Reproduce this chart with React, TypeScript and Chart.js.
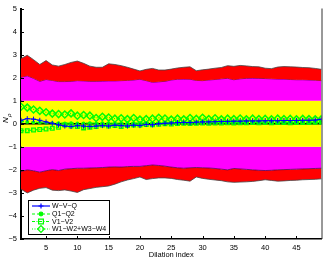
import React, { useEffect, useRef } from "react";
import { Chart, registerables } from "chart.js";
Chart.register(...registerables);

const dilation = Array.from({ length: 49 }, (_, i) => i + 1);
const xTicks = [5, 10, 15, 20, 25, 30, 35, 40, 45];
const yTicks = [-5, -4, -3, -2, -1, 0, 1, 2, 3, 4, 5];

const upperRed = [2.83,2.97,2.78,2.57,2.74,2.55,2.50,2.57,2.66,2.72, 2.62,2.50,2.45,2.45,2.60,2.57,2.52,2.45,2.37,2.29, 2.36,2.40,2.33,2.33,2.37,2.42,2.45,2.47,2.30,2.34, 2.37,2.41,2.44,2.52,2.49,2.53,2.51,2.48,2.47,2.41, 2.39,2.46,2.48,2.47,2.46,2.44,2.43,2.40,2.36];
const upperMag = [2.02,2.08,1.97,1.84,1.92,1.88,1.83,1.83,1.84,1.87, 1.86,1.84,1.84,1.85,1.86,1.86,1.87,1.88,1.90,1.93, 1.87,1.80,1.82,1.84,1.90,1.93,1.94,1.93,1.88,1.87, 1.90,1.92,1.95,1.97,1.91,1.95,1.97,1.98,1.97,1.96, 1.95,1.94,1.94,1.92,1.91,1.91,1.90,1.89,1.87];
const lowerMag = [-2.07,-2.00,-2.04,-2.10,-2.04,-1.99,-2.03,-1.97,-1.95,-1.93, -1.93,-1.92,-1.91,-1.90,-1.88,-1.87,-1.88,-1.86,-1.85,-1.85, -1.82,-1.79,-1.81,-1.84,-1.88,-1.91,-1.93,-1.91,-1.90,-1.91, -1.92,-1.94,-1.97,-2.00,-1.94,-1.96,-1.98,-2.00,-2.02,-2.03, -2.02,-2.00,-1.99,-1.98,-1.97,-1.96,-1.95,-1.94,-1.93];
const lowerRed = [-2.84,-3.00,-2.88,-2.80,-2.77,-2.88,-2.90,-2.87,-2.92,-2.98, -2.86,-2.81,-2.76,-2.73,-2.70,-2.62,-2.52,-2.44,-2.38,-2.31, -2.42,-2.38,-2.35,-2.35,-2.37,-2.42,-2.45,-2.49,-2.31,-2.37, -2.41,-2.44,-2.47,-2.52,-2.54,-2.53,-2.52,-2.50,-2.47,-2.43, -2.46,-2.49,-2.48,-2.46,-2.45,-2.43,-2.42,-2.41,-2.39];

const wvq = [0.15,0.22,0.20,0.15,0.08,0.02,-0.05,-0.10,-0.12,-0.08, -0.10,-0.12,-0.10,-0.08,-0.10,-0.06,-0.08,-0.10,-0.06,-0.08, -0.03,-0.05,0.00,0.02,0.03,0.05,0.06,0.05,0.07,0.08, 0.08,0.09,0.10,0.10,0.11,0.11,0.12,0.12,0.12,0.13, 0.13,0.13,0.14,0.14,0.14,0.15,0.15,0.16,0.20];
const q1q2 = [0.10,0.08,0.06,0.05,0.04,0.03,0.03,0.02,0.03,0.02, 0.02,0.03,0.02,0.03,0.03,0.02,0.03,0.03,0.02,0.03, 0.03,0.04,0.03,0.04,0.04,0.03,0.04,0.04,0.03,0.04, 0.04,0.05,0.04,0.05,0.04,0.05,0.05,0.04,0.05,0.05, 0.05,0.04,0.05,0.05,0.05,0.04,0.05,0.05,0.05];
const v1v2 = [-0.30,-0.30,-0.27,-0.25,-0.23,-0.20,-0.15,-0.05,-0.10,-0.12, -0.18,-0.15,-0.12,-0.06,-0.10,-0.08,-0.12,-0.08,-0.05,-0.06, -0.03,-0.04,-0.02,0.00,-0.01,0.01,0.02,0.01,0.02,0.03, 0.02,0.03,0.03,0.04,0.03,0.04,0.04,0.05,0.04,0.05, 0.04,0.05,0.05,0.04,0.05,0.05,0.05,0.06,0.06];
const w1234 = [0.74,0.70,0.62,0.56,0.50,0.44,0.42,0.40,0.45,0.35, 0.38,0.35,0.25,0.30,0.27,0.22,0.24,0.20,0.25,0.18, 0.20,0.22,0.26,0.23,0.18,0.22,0.19,0.25,0.21,0.26, 0.20,0.24,0.19,0.22,0.20,0.23,0.19,0.22,0.20,0.21, 0.19,0.22,0.20,0.21,0.19,0.21,0.20,0.19,0.20];

const seriesNames = ["W\u2212V\u2212Q", "Q1\u2212Q2", "V1\u2212V2", "W1\u2212W2+W3\u2212W4"];

const FONT = "'Liberation Sans', Arial, sans-serif";
const GREEN = "#00ff00";
const BLUE = "#0000ff";

const pts = (arr: number[]) => arr.map((y, i) => ({ x: dilation[i], y }));

function drawMarker(ctx: CanvasRenderingContext2D, style: string, x: number, y: number, r: number, color: string) {
  ctx.save();
  ctx.strokeStyle = color;
  ctx.lineWidth = 1.2;
  ctx.setLineDash([]);
  ctx.beginPath();
  if (style === "cross") {
    ctx.moveTo(x - r, y); ctx.lineTo(x + r, y);
    ctx.moveTo(x, y - r); ctx.lineTo(x, y + r);
  } else if (style === "circle") {
    ctx.fillStyle = color;
    ctx.arc(x, y, r, 0, Math.PI * 2);
    ctx.fill();
  } else if (style === "rect") {
    ctx.rect(x - r, y - r, 2 * r, 2 * r);
  } else if (style === "rectRot") {
    ctx.moveTo(x, y - r); ctx.lineTo(x + r, y); ctx.lineTo(x, y + r); ctx.lineTo(x - r, y); ctx.closePath();
  }
  ctx.stroke();
  ctx.restore();
}

const overlayPlugin = {
  id: "overlay",
  afterDraw(chart: any) {
    const { ctx, chartArea } = chart;
    const xs = chart.scales.x;
    const ys = chart.scales.y;
    ctx.save();
    ctx.strokeStyle = "#333";
    ctx.lineWidth = 1;
    ctx.beginPath();
    ctx.moveTo(chartArea.right + 0.5, chartArea.top);
    ctx.lineTo(chartArea.right + 0.5, chartArea.bottom);
    ctx.stroke();
    ctx.strokeStyle = "#000";
    ctx.lineWidth = 1;
    ctx.beginPath();
    xTicks.forEach((t) => {
      const px = Math.round(xs.getPixelForValue(t)) + 0.5;
      ctx.moveTo(px, chartArea.bottom);
      ctx.lineTo(px, chartArea.bottom - 3);
    });
    yTicks.forEach((t) => {
      const py = Math.round(ys.getPixelForValue(t)) + 0.5;
      ctx.moveTo(chartArea.left, py);
      ctx.lineTo(chartArea.left + 3, py);
    });
    ctx.stroke();
    ctx.save();
    ctx.translate(8, 119);
    ctx.rotate(-Math.PI / 2);
    ctx.fillStyle = "#000";
    ctx.textBaseline = "alphabetic";
    ctx.font = `italic 8px ${FONT}`;
    ctx.fillText("N", -4, 0);
    ctx.font = `italic 6px ${FONT}`;
    ctx.fillText("\u03C1", 2, 2.5);
    ctx.restore();
    const bx = 28, by = 200, bw = 81, bh = 34;
    ctx.fillStyle = "#fff";
    ctx.fillRect(bx, by, bw, bh);
    ctx.strokeStyle = "#000";
    ctx.lineWidth = 1;
    ctx.strokeRect(bx + 0.5, by + 0.5, bw, bh);
    const entries = [
      { color: BLUE, dash: [], marker: "cross", r: 2.5 },
      { color: GREEN, dash: [3, 2], marker: "circle", r: 1.8 },
      { color: GREEN, dash: [3, 1.5, 1, 1.5], marker: "rect", r: 2.4 },
      { color: GREEN, dash: [1, 1.5], marker: "rectRot", r: 3.3 },
    ];
    const rows = [206, 214, 221.5, 229];
    entries.forEach((e, i) => {
      const yy = rows[i];
      ctx.save();
      ctx.strokeStyle = e.color;
      ctx.lineWidth = 1.2;
      ctx.setLineDash(e.dash);
      ctx.beginPath();
      ctx.moveTo(32, yy);
      ctx.lineTo(50, yy);
      ctx.stroke();
      ctx.restore();
      drawMarker(ctx, e.marker, 41, yy, e.r, e.color);
      ctx.fillStyle = "#000";
      ctx.font = `7px ${FONT}`;
      ctx.textBaseline = "middle";
      ctx.textAlign = "left";
      ctx.fillText(seriesNames[i], 52, yy + 0.5);
    });
    ctx.restore();
  },
};

export default function App() {
  const ref = useRef<HTMLCanvasElement | null>(null);
  useEffect(() => {
    document.body.style.margin = "0";
    const canvas = ref.current;
    if (!canvas) return;
    const band = (data: number[], color: string, border: string, fill: any) => ({
      data: pts(data),
      borderColor: border,
      borderWidth: border === "transparent" ? 0 : 0.8,
      backgroundColor: color,
      fill,
      pointRadius: 0,
      tension: 0,
    });
    const chart = new Chart(canvas, {
      type: "line",
      data: {
        datasets: [
          { label: seriesNames[0], data: pts(wvq), borderColor: BLUE, borderWidth: 1, pointStyle: "cross", pointRadius: 2.5, pointBorderColor: BLUE, pointBorderWidth: 1, fill: false, tension: 0 } as any,
          { label: seriesNames[1], data: pts(q1q2), borderColor: GREEN, borderDash: [3, 2], borderWidth: 1.2, pointStyle: "circle", pointRadius: 1.3, pointBackgroundColor: GREEN, pointBorderColor: GREEN, fill: false, tension: 0 },
          { label: seriesNames[2], data: pts(v1v2), borderColor: GREEN, borderDash: [3, 1.5, 1, 1.5], borderWidth: 1.2, pointStyle: "rect", pointRadius: 2.6, pointBackgroundColor: "transparent", pointBorderColor: GREEN, pointBorderWidth: 1.3, fill: false, tension: 0 },
          { label: seriesNames[3], data: pts(w1234), borderColor: GREEN, borderDash: [1, 1.5], borderWidth: 1.2, pointStyle: "rectRot", pointRadius: 3.5, pointBackgroundColor: "transparent", pointBorderColor: GREEN, pointBorderWidth: 1.5, fill: false, tension: 0 },
          { label: "zero", data: pts(dilation.map(() => 0)), borderColor: "#000", borderWidth: 1.5, pointRadius: 0, fill: false, tension: 0 },
          band(upperRed, "#ff0000", "#444", "+1"),
          band(upperMag, "#ff00ff", "#500050", { value: 1 }),
          band(dilation.map(() => 1), "#ffff00", "transparent", { value: -1 }),
          band(lowerMag, "#ff00ff", "#500050", { value: -1 }),
          band(lowerRed, "#ff0000", "#444", "-1"),
        ],
      },
      options: {
        responsive: false,
        animation: false,
        devicePixelRatio: 1,
        layout: { padding: { top: 2, right: 4, left: 0, bottom: 0 } },
        plugins: { legend: { display: false }, tooltip: { enabled: false } },
        elements: { line: { borderJoinStyle: "round" } },
        scales: {
          x: {
            type: "linear",
            min: 1,
            max: 49,
            afterBuildTicks: (s: any) => { s.ticks = xTicks.map((v) => ({ value: v })); },
            afterFit: (s: any) => { s.height = 20; },
            grid: { display: false, drawTicks: false },
            border: { display: true, color: "#000", width: 1.5 },
            ticks: { font: { family: FONT, size: 7.5 }, color: "#000", padding: 4, maxRotation: 0 },
            title: { display: true, text: "Dilation index", font: { family: FONT, size: 7.5 }, color: "#000", padding: 0 },
          },
          y: {
            type: "linear",
            min: -5,
            max: 5,
            afterBuildTicks: (s: any) => { s.ticks = yTicks.map((v) => ({ value: v })); },
            afterFit: (s: any) => { s.width = 21; },
            grid: { display: false, drawTicks: false },
            border: { display: true, color: "#000", width: 2 },
            ticks: { font: { family: FONT, size: 7.5 }, color: "#000", padding: 4, callback: (v: any) => String(v).replace("-", "\u2212") },
          },
        },
      },
      plugins: [overlayPlugin],
    });
    return () => chart.destroy();
  }, []);
  return <canvas ref={ref} width={327} height={259} style={{ display: "block" }} />;
}
